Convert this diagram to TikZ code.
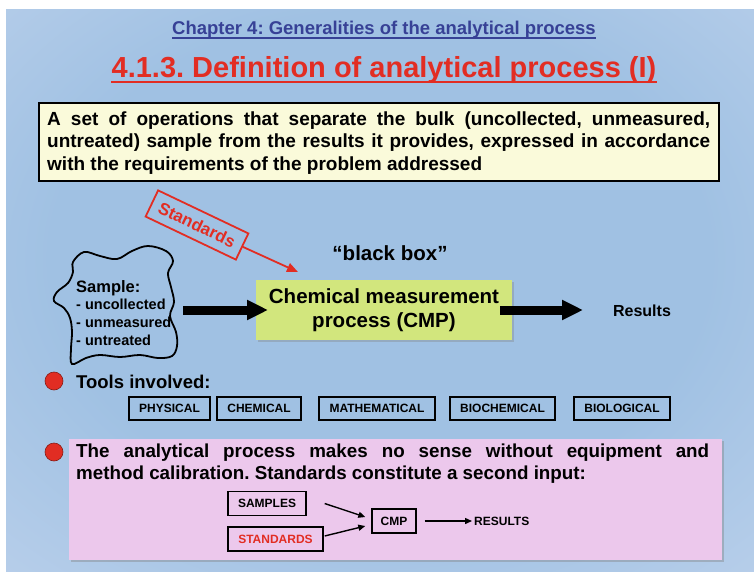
\documentclass[tikz,border=0pt]{standalone}
\usepackage{fontspec}
\setmainfont{Liberation Sans}
\usetikzlibrary{arrows.meta,shadows}
\definecolor{bgA}{RGB}{160,193,227}
\definecolor{bgB}{RGB}{190,210,236}
\definecolor{bgC}{RGB}{244,230,246}
\definecolor{chapblue}{RGB}{55,65,150}
\definecolor{titred}{RGB}{226,45,35}
\definecolor{defyellow}{RGB}{250,250,218}
\definecolor{cmpgreen}{RGB}{210,230,125}
\definecolor{pinkfill}{RGB}{236,200,236}
\definecolor{bulletred}{RGB}{225,45,35}
\pgfdeclareradialshading{bgshade}{\pgfpoint{0bp}{4bp}}{color(0bp)=(bgA); color(22bp)=(bgA); color(42bp)=(bgB); color(58bp)=(bgC); color(75bp)=(bgC)}
\tikzset{
  titlefont/.style={font=\fontsize{#1}{#1}\selectfont\bfseries},
  bigarrow/.style={line width=9pt, -{Triangle[length=21pt,width=19pt]}},
  redarrow/.style={draw=titred, line width=1.8pt, -{Triangle[length=11pt,width=9pt]}},
  thinarrow/.style={line width=1.4pt, -{Triangle[length=7pt,width=6pt]}},
  toolbox/.style={draw, line width=1.2pt, minimum height=23pt, inner sep=0pt, font=\fontsize{12}{14}\selectfont\bfseries},
  smallbox/.style={draw, line width=1.4pt, minimum height=24pt, inner sep=0pt, font=\fontsize{12}{14}\selectfont\bfseries},
  bulletdot/.style={circle, fill=bulletred, draw=bulletred!60!black, line width=0.6pt, minimum size=18pt, inner sep=0pt},
}
\frenchspacing
\begin{document}
\begin{tikzpicture}[x=1pt,y=-1pt]
\useasboundingbox (0,0) rectangle (754,572);
\fill[white] (0,0) rectangle (754,572);
\shade[shading=bgshade] (6,10) rectangle (754,572);

% titles
\node[titlefont=18.5, text=chapblue, inner sep=0pt, anchor=base] (chap) at (384,35) {\frenchspacing Chapter 4: Generalities of the analytical process};
\draw[chapblue, line width=1.3pt] ([yshift=-3pt]chap.base west) -- ([yshift=-3pt]chap.base east);
\node[titlefont=29, text=titred, inner sep=0pt, anchor=base] (title) at (384,78) {\frenchspacing 4.1.3. Definition of analytical process (I)};
\draw[titred, line width=2.4pt] ([yshift=-4pt]title.base west) -- ([yshift=-4pt]title.base east);

% definition box
\node[draw, line width=2.4pt, fill=defyellow, minimum width=680pt, minimum height=78pt, anchor=north west, inner sep=0pt] (defbox) at (38,102) {};
\node[anchor=north west, inner sep=0pt, text width=663pt, align=justify, font=\fontsize{19}{22.5}\selectfont\bfseries] (deftext) at (47,109.25) {\frenchspacing\strut A set of operations that separate the bulk (uncollected, unmeasured,\linebreak untreated) sample from the results it provides, expressed in accordance\linebreak with the requirements of the problem addressed};

% standards tag
\node[draw=titred, text=titred, line width=1.8pt, rotate=-25.5, minimum width=100pt, minimum height=29pt, inner sep=0pt, font=\fontsize{17}{19}\selectfont\bfseries] (std) at (197,225) {Standards};
\coordinate (stdtip) at (298,272);
\draw[redarrow] (std.east) -- (stdtip);

% black box label
\node[anchor=base, inner sep=0pt, font=\fontsize{20.5}{24}\selectfont\bfseries] (bb) at (390,260) {“black box”};

% sample blob
\draw[line width=1.8pt] plot[smooth cycle, tension=0.6] coordinates {
 (73,262) (84,252) (100,256) (117,259) (132,251) (148,246) (166,251) (173,261) (168,273) (171,287) (174,302) (170,316) (176,332) (177,346) (172,356) (158,358) (140,355) (120,357) (100,355) (86,358) (72,364) (71,349) (72,332) (70,318) (64,308) (54,301) (57,292) (68,283) (73,272)};
\node[anchor=north west, inner sep=0pt, align=left, font=\fontsize{14.5}{17.7}\selectfont\bfseries] (sample) at (76,280) {{\fontsize{16.5}{17.7}\selectfont Sample:}\\- uncollected\\- unmeasured\\- untreated};

% CMP box
\node[draw=none, fill=cmpgreen, drop shadow={shadow xshift=1.5pt, shadow yshift=-1.5pt, opacity=0.35}, minimum width=256pt, minimum height=60pt, inner sep=0pt, align=center, font=\fontsize{20.5}{24.5}\selectfont\bfseries] (cmp) at (384,310) {Chemical measurement\\process (CMP)};

\coordinate (a1s) at (183,310);
\coordinate (a1e) at (268,310);
\draw[bigarrow] (a1s) -- (a1e);
\coordinate (a2s) at (500,310);
\coordinate (a2e) at (583,310);
\draw[bigarrow] (a2s) -- (a2e);
\node[anchor=base, inner sep=0pt, font=\fontsize{16}{18}\selectfont\bfseries] (results) at (642,316) {Results};

% tools
\node[bulletdot] (b1) at (54,381) {};
\node[anchor=base west, inner sep=0pt, font=\fontsize{18.5}{22}\selectfont\bfseries] (tools) at (76,388) {Tools involved:};
\node[toolbox, minimum width=81pt] (t1) at (169.5,408.5) {PHYSICAL};
\node[toolbox, minimum width=84pt] (t2) at (259,408.5) {CHEMICAL};
\node[toolbox, minimum width=116pt] (t3) at (377,408.5) {MATHEMATICAL};
\node[toolbox, minimum width=105pt] (t4) at (502.5,408.5) {BIOCHEMICAL};
\node[toolbox, minimum width=96pt] (t5) at (622,408.5) {BIOLOGICAL};

% pink box
\node[fill=pinkfill, drop shadow={shadow xshift=1.5pt, shadow yshift=-1.5pt, opacity=0.4}, minimum width=653pt, minimum height=121pt, anchor=north west, inner sep=0pt] (pink) at (69,439) {};
\node[bulletdot] (b2) at (54,452) {};
\node[anchor=north west, inner sep=0pt, text width=633pt, align=justify, font=\fontsize{18.8}{22}\selectfont\bfseries] (calib) at (76,441.6) {\frenchspacing\strut The analytical process makes no sense without equipment and\linebreak method calibration. Standards constitute a second input:};

\node[smallbox, minimum width=78pt] (smp) at (267,503.5) {SAMPLES};
\node[smallbox, minimum width=95pt, text=titred] (stds) at (275.5,539) {STANDARDS};
\node[smallbox, minimum width=44pt] (cmps) at (394,521) {CMP};
\node[anchor=west, inner sep=2pt, font=\fontsize{12}{14}\selectfont\bfseries] (res) at (472,521) {RESULTS};
\draw[thinarrow] ([xshift=18pt]smp.east) -- ([xshift=-6pt,yshift=4pt]cmps.west);
\draw[thinarrow] ([xshift=1pt,yshift=3pt]stds.east) -- ([xshift=-6pt,yshift=-5pt]cmps.west);
\draw[thinarrow] ([xshift=8pt]cmps.east) -- (res.west);
\end{tikzpicture}
\end{document}
